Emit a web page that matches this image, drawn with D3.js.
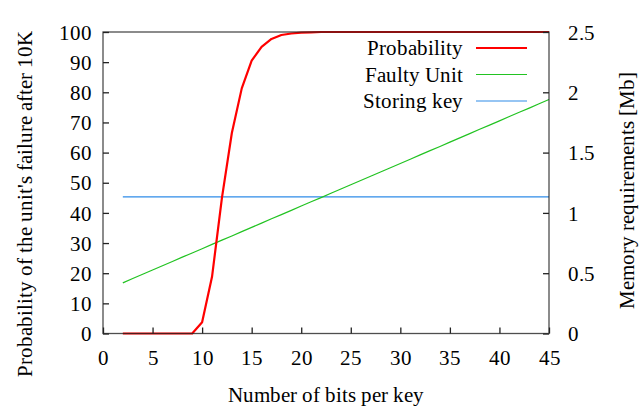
<!DOCTYPE html>
<html><head><meta charset="utf-8">
<script src="https://cdn.jsdelivr.net/npm/d3@7"></script>
<style>
@font-face { font-family: "ChartSerif"; src: local("Liberation Serif"), local("LiberationSerif"), local("Liberation Serif Regular"); }
html,body{margin:0;padding:0;background:#fff;}
svg{display:block;font-family:"ChartSerif";}
</style>
</head>
<body>
<svg id="chart" width="641" height="406"></svg>
<script>
const bits = [2,3,4,5,6,7,8,9,10,11,12,13,14,15,16,17,18,19,20,21,22,23,24,25,26,27,28,29,30,31,32,33,34,35,36,37,38,39,40,41,42,43,44,45];
const probability = [0,0,0,0,0,0,0,0,3.7,18.8,45,66.5,81.3,90.5,95.1,97.7,99.0,99.5,99.8,99.9,100,100,100,100,100,100,100,100,100,100,100,100,100,100,100,100,100,100,100,100,100,100,100,100];
const faultyUnit = [0.420,0.456,0.491,0.527,0.562,0.597,0.633,0.668,0.703,0.739,0.774,0.809,0.845,0.880,0.915,0.951,0.986,1.021,1.057,1.092,1.127,1.163,1.198,1.233,1.269,1.304,1.339,1.375,1.410,1.445,1.481,1.516,1.551,1.587,1.622,1.657,1.693,1.728,1.763,1.799,1.834,1.869,1.905,1.940];
const storingKeyBits = [2,45];
const storingKey = [1.133,1.133];
const xTicks = [0,5,10,15,20,25,30,35,40,45];
const yTicks = [0,10,20,30,40,50,60,70,80,90,100];
const y2Ticks = [0,0.5,1,1.5,2,2.5];
const legendLabels = ["Probability","Faulty Unit","Storing key"];
const colors = ["#ff0000","#22c322","#2e8be8"];

const fs = "21px";
const svg = d3.select("#chart");
const L=103, R=549, T=32, B=333.5;
const x = d3.scaleLinear().domain([0,45]).range([L,R]);
const y = d3.scaleLinear().domain([0,100]).range([B,T]);
const y2 = d3.scaleLinear().domain([0,2.5]).range([B,T]);

function txt(sel){ return sel.style("font-size",fs).style("fill","#000"); }

// lines
const lineP = d3.line().x((d,i)=>x(bits[i])).y(d=>y(d));
const lineF = d3.line().x((d,i)=>x(bits[i])).y(d=>y2(d));
const lineS = d3.line().x((d,i)=>x(storingKeyBits[i])).y(d=>y2(d));
svg.append("path").attr("d",lineS(storingKey)).attr("fill","none").attr("stroke",colors[2]).attr("stroke-width",1.2);
svg.append("path").attr("d",lineF(faultyUnit)).attr("fill","none").attr("stroke",colors[1]).attr("stroke-width",1.2);
svg.append("path").attr("d",lineP(probability)).attr("fill","none").attr("stroke",colors[0]).attr("stroke-width",2.2).attr("stroke-linejoin","round");

// frame
svg.append("rect").attr("x",L).attr("y",T).attr("width",R-L).attr("height",B-T)
  .attr("fill","none").attr("stroke","#222").attr("stroke-width",1.3).attr("stroke-opacity",0.8);

// axes (inward ticks)
const gx = svg.append("g").attr("transform",`translate(0,${B})`)
  .call(d3.axisBottom(x).tickValues(xTicks).tickSizeInner(-6).tickSizeOuter(0).tickPadding(14).tickFormat(d3.format("d")));
const gy = svg.append("g").attr("transform",`translate(${L},0)`)
  .call(d3.axisLeft(y).tickValues(yTicks).tickSizeInner(-6).tickSizeOuter(0).tickPadding(11).tickFormat(d3.format("d")));
const gy2 = svg.append("g").attr("transform",`translate(${R},0)`)
  .call(d3.axisRight(y2).tickValues(y2Ticks).tickSizeInner(-6).tickSizeOuter(0).tickPadding(19).tickFormat(d=>String(d)));
[gx,gy,gy2].forEach(g=>{
  g.attr("font-family",null).attr("font-size",null);
  g.select(".domain").remove();
  g.selectAll(".tick line").attr("stroke","#222").attr("stroke-width",1.3);
  txt(g.selectAll(".tick text"));
});
gx.selectAll(".tick text").attr("dy","0.71em").attr("y",17);
gy.selectAll(".tick text").attr("dy","0.34em");
gy2.selectAll(".tick text").attr("dy","0.34em");

// axis titles
txt(svg.append("text")).attr("x",(L+R)/2).attr("y",402).attr("text-anchor","middle").text("Number of bits per key");
txt(svg.append("text")).attr("transform","translate(32,204) rotate(-90)").attr("text-anchor","middle").text("Probability of the unit's failure after 10K");
txt(svg.append("text")).attr("transform","translate(634,190) rotate(-90)").attr("text-anchor","middle").text("Memory requirements [Mb]");

// legend
const lg = svg.append("g");
legendLabels.forEach((lab,i)=>{
  const yy = 48 + i*26.5;
  txt(lg.append("text")).attr("x",463).attr("y",yy).attr("dy","0.34em").attr("text-anchor","end").text(lab);
  lg.append("line").attr("x1",476).attr("x2",527).attr("y1",yy).attr("y2",yy)
    .attr("stroke",colors[i]).attr("stroke-width",i===0?2.2:1.2);
});
</script>
</body></html>
